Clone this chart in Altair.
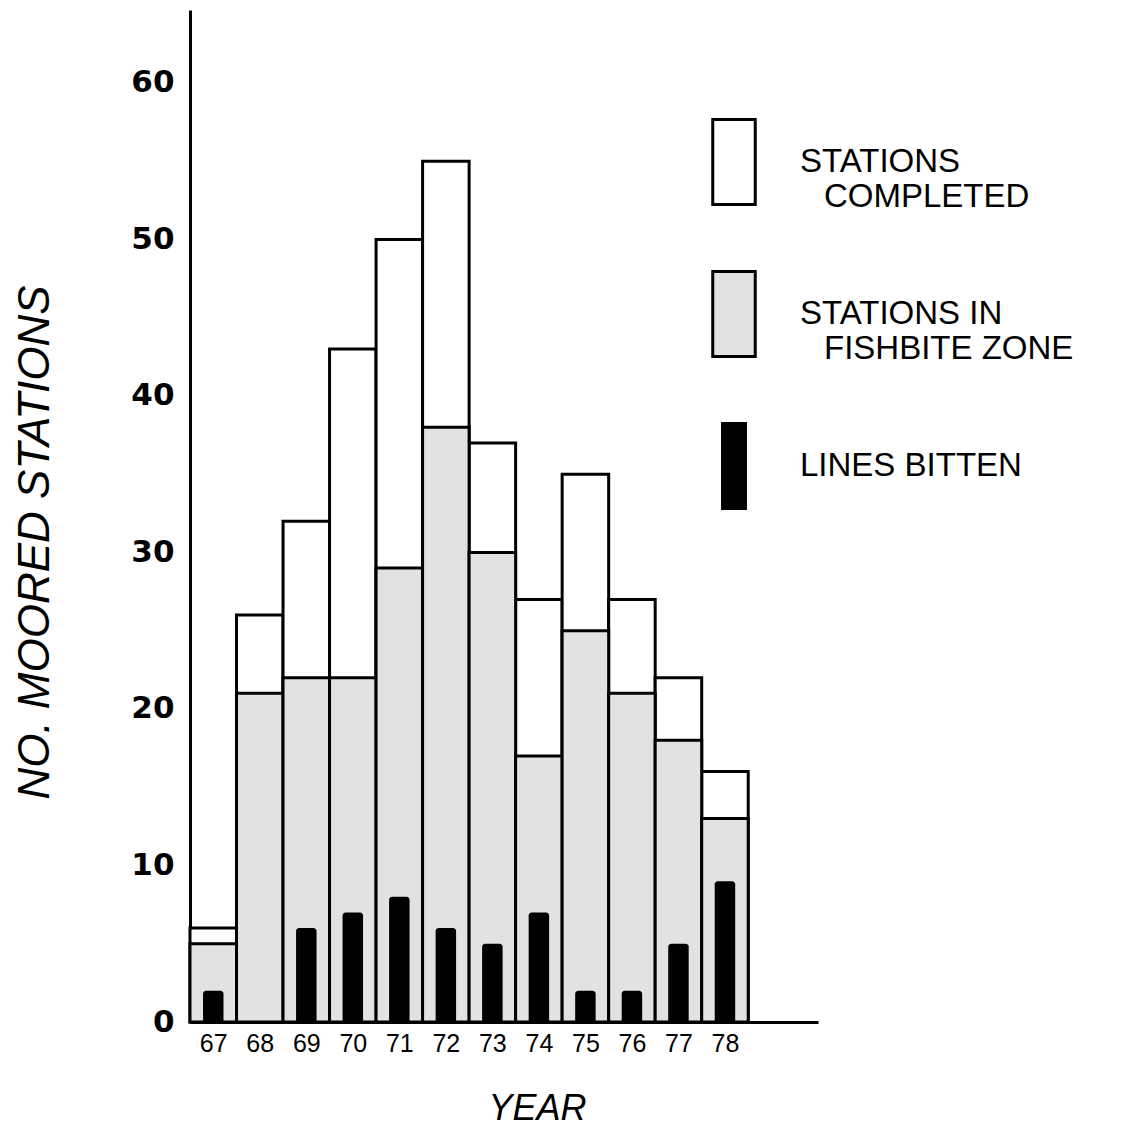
import altair as alt
import pandas as pd

years = [67, 68, 69, 70, 71, 72, 73, 74, 75, 76, 77, 78]
completed = [6, 26, 32, 43, 50, 55, 37, 27, 35, 27, 22, 16]
fishbite = [5, 21, 22, 22, 29, 38, 30, 17, 25, 21, 18, 13]
bitten = [2, 0, 6, 7, 8, 6, 5, 7, 2, 2, 5, 9]
series = ["STATIONS COMPLETED", "STATIONS IN FISHBITE ZONE", "LINES BITTEN"]
fills = ["#ffffff", "#e2e2e2", "#000000"]
y_ticks = [0, 10, 20, 30, 40, 50, 60]

df = pd.DataFrame({"year": years, "completed": completed,
                   "fishbite": fishbite, "bitten": bitten})
leg = pd.DataFrame({"series": series})

xscale = alt.Scale(domain=[66.5, 80], nice=False, zero=False)
yscale = alt.Scale(domain=[0, 64.66], nice=False)

xaxis = alt.Axis(values=years, format="d", title="YEAR", grid=False, ticks=False, tickSize=0,
                 domainColor="black", domainWidth=3, labelFont="Liberation Sans",
                 labelFontSize=25, labelColor="black", labelPadding=9,
                 titleFont="Liberation Sans", titleFontSize=36, titleFontStyle="italic",
                 titleFontWeight="normal", titleColor="black", titleX=347, titleY=86,
                 titleBaseline="middle", titleAlign="center")
yaxis = alt.Axis(values=y_ticks, title="NO. MOORED STATIONS", grid=False, ticks=False, tickSize=0,
                 domainColor="black", domainWidth=3, labelFont="DejaVu Sans",
                 labelFontWeight="bold", labelFontSize=31, labelColor="black", labelPadding=16,
                 titleFont="Liberation Sans", titleFontSize=44,
                 titleFontStyle="italic",
                 titleFontWeight="normal", titleColor="black", titleX=-155, titleY=532,
                 titleBaseline="middle", titleAlign="center", titleAngle=270)

base = alt.Chart(df).transform_calculate(
    x0="datum.year - 0.5", x1="datum.year + 0.5",
    b0="datum.year - 0.22", b1="datum.year + 0.22")

comp = base.mark_bar(fill="#ffffff", stroke="black", strokeWidth=3).encode(
    x=alt.X("x0:Q", scale=xscale, axis=xaxis),
    x2="x1:Q",
    y=alt.Y("completed:Q", scale=yscale, axis=yaxis),
    y2=alt.datum(0),
)
fish = base.mark_bar(fill=fills[1], stroke="black", strokeWidth=3).encode(
    x=alt.X("x0:Q", scale=xscale), x2="x1:Q",
    y=alt.Y("fishbite:Q", scale=yscale), y2=alt.datum(0),
)
bit = base.transform_filter("datum.bitten > 0").mark_bar(
    fill="black", cornerRadiusTopLeft=3, cornerRadiusTopRight=3).encode(
    x=alt.X("b0:Q", scale=xscale), x2="b1:Q",
    y=alt.Y("bitten:Q", scale=yscale), y2=alt.datum(0),
)

label_expr = ("datum.label == 'STATIONS COMPLETED' ? ['STATIONS', '\u2800COMPLETED'] : "
              "datum.label == 'STATIONS IN FISHBITE ZONE' ? ['STATIONS IN', '\u2800FISHBITE ZONE'] : "
              "datum.label")

def mk_legend():
    return alt.Legend(title=None, orient="none", legendX=500, legendY=108, padding=0,
                      symbolSize=7225, symbolStrokeWidth=3, symbolStrokeColor="black",
                      symbolOpacity=1, labelExpr=label_expr, labelLimit=500,
                      labelFont="Liberation Sans", labelFontSize=33, labelColor="black",
                      labelOffset=22, rowPadding=51)

paths = ["M-0.5,-1H0.5V1H-0.5Z", "M-0.5,-1H0.5V1H-0.5Z", "M-0.27,-1H0.27V1H-0.27Z"]

legend_layer = alt.Chart(leg).mark_point(filled=True, opacity=0).encode(
    fill=alt.Fill("series:N", scale=alt.Scale(domain=series, range=fills), legend=mk_legend()),
    shape=alt.Shape("series:N", scale=alt.Scale(domain=series, range=paths), legend=mk_legend()),
    stroke=alt.Stroke("series:N", scale=alt.Scale(domain=series, range=["black", "black", "black"]),
                      legend=mk_legend()),
)

chart = alt.layer(comp, fish, bit, legend_layer).properties(
    width=628, height=1012,
    background="white",
    padding={"left": 190, "top": 10, "right": 316, "bottom": 120},
    autosize=alt.AutoSizeParams(type="none"),
).configure_view(stroke=None, strokeWidth=0)

chart.save("out.html", embed_options={"renderer": "svg", "actions": False})
